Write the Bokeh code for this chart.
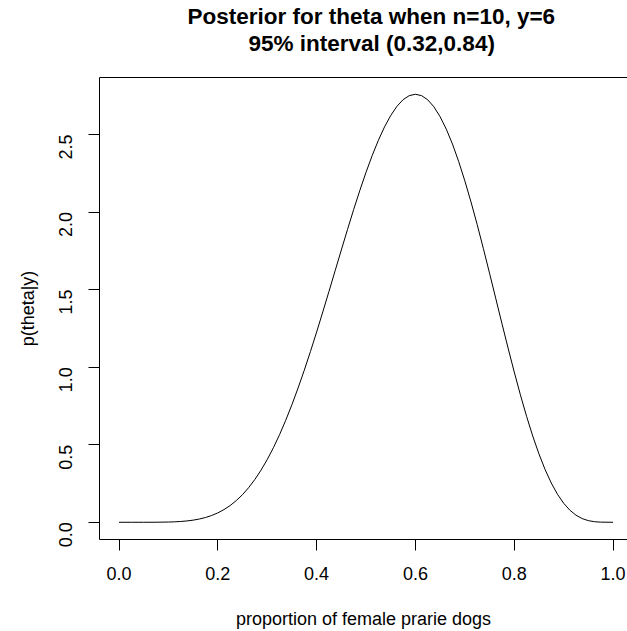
from bokeh.plotting import figure
from bokeh.models import Range1d, LinearAxis, Title, FixedTicker, PrintfTickFormatter
from bokeh.embed import file_html
from bokeh.resources import INLINE
import math

theta = [0.0, 0.025, 0.05, 0.075, 0.1,
         0.1125, 0.125, 0.1375, 0.15, 0.1625, 0.175, 0.1875, 0.2,
         0.2125, 0.225, 0.2375, 0.25, 0.2625, 0.275, 0.2875, 0.3,
         0.3125, 0.325, 0.3375, 0.35, 0.3625, 0.375, 0.3875, 0.4,
         0.4125, 0.425, 0.4375, 0.45, 0.4625, 0.475, 0.4875, 0.5,
         0.5125, 0.525, 0.5375, 0.55, 0.5625, 0.575, 0.5875, 0.6,
         0.6125, 0.625, 0.6375, 0.65, 0.6625, 0.675, 0.6875, 0.7,
         0.7125, 0.725, 0.7375, 0.75, 0.7625, 0.775, 0.7875, 0.8,
         0.8125, 0.825, 0.8375, 0.85, 0.8625, 0.875, 0.8875, 0.9,
         0.9125, 0.925, 0.9375, 0.95, 0.9625, 0.975, 1.0]
density = [0.0, 0.0, 0.0, 0.0003, 0.0015,
           0.0029, 0.0052, 0.0086, 0.0137, 0.0209, 0.0307, 0.0437, 0.0606,
           0.0818, 0.108, 0.1401, 0.178, 0.2236, 0.276, 0.3362, 0.404,
           0.4806, 0.565, 0.6577, 0.758, 0.8658, 0.980, 1.1007, 1.226,
           1.3558, 1.488, 1.6217, 1.755, 1.8871, 2.016, 2.1392, 2.256,
           2.3641, 2.462, 2.5488, 2.622, 2.6808, 2.724, 2.7501, 2.759,
           2.7500, 2.723, 2.6776, 2.614, 2.5341, 2.438, 2.3262, 2.201,
           2.0648, 1.919, 1.7648, 1.606, 1.4445, 1.283, 1.1234, 0.969,
           0.8214, 0.683, 0.5558, 0.441, 0.3399, 0.253, 0.1808, 0.123,
           0.0782, 0.0458, 0.0239, 0.0106, 0.0036, 0.0008, 0.0]
x_ticks = [0.0, 0.2, 0.4, 0.6, 0.8, 1.0]
y_ticks = [0.0, 0.5, 1.0, 1.5, 2.0, 2.5]
title_line1 = "Posterior for theta when n=10, y=6"
title_line2 = "95% interval (0.32,0.84)"
x_label = "proportion of female prarie dogs"
y_label = "p(theta|y)"

FONT = "Liberation Sans"

p = figure(width=627, height=631,
           x_range=Range1d(-0.0395, 1.0293), y_range=Range1d(-0.111, 2.867),
           output_backend="svg", toolbar_location=None,
           min_border_left=99, min_border_right=0, min_border_top=77, min_border_bottom=91,
           x_axis_label=x_label, y_axis_label=y_label)
p.title = None
p.grid.visible = False
p.outline_line_color = None
p.background_fill_color = "white"
p.border_fill_color = "white"

p.line(theta, density, line_color="black", line_width=1)

for ax in (p.xaxis[0], p.yaxis[0]):
    ax.axis_line_color = "black"
    ax.axis_line_width = 1
    ax.major_tick_line_color = "black"
    ax.major_tick_in = 0
    ax.major_tick_out = 11
    ax.minor_tick_line_color = None
    ax.major_label_text_font = FONT
    ax.major_label_text_font_size = "18px"
    ax.major_label_text_color = "black"
    ax.axis_label_text_font = FONT
    ax.axis_label_text_font_size = "18px"
    ax.axis_label_text_font_style = "normal"
    ax.axis_label_text_color = "black"
    ax.formatter = PrintfTickFormatter(format="%.1f")

p.xaxis[0].ticker = FixedTicker(ticks=x_ticks)
p.yaxis[0].ticker = FixedTicker(ticks=y_ticks)
p.xaxis[0].major_label_standoff = 16
p.xaxis[0].axis_label_standoff = 26
p.yaxis[0].major_label_orientation = math.pi / 2
p.yaxis[0].major_label_standoff = 23
p.yaxis[0].axis_label_standoff = 12

# top side of the box (no ticks)
top = LinearAxis(ticker=FixedTicker(ticks=[]), axis_line_color="black",
                 major_tick_line_color=None, minor_tick_line_color=None,
                 major_label_text_font_size="0px", major_label_standoff=0)
p.add_layout(top, "above")

# spacer between box and title lines
gap = Title(text=" ", text_font=FONT, text_font_size="2px", standoff=18)
t2 = Title(text=title_line2, align="left", offset=149, text_font=FONT,
           text_font_size="22.5px", text_font_style="bold", text_color="black", standoff=0)
t1 = Title(text=title_line1, align="left", offset=88, text_font=FONT,
           text_font_size="22.5px", text_font_style="bold", text_color="black", standoff=0)
p.add_layout(gap, "above")
p.add_layout(t2, "above")
p.add_layout(t1, "above")

open("out.html", "w").write(file_html(p, INLINE))
